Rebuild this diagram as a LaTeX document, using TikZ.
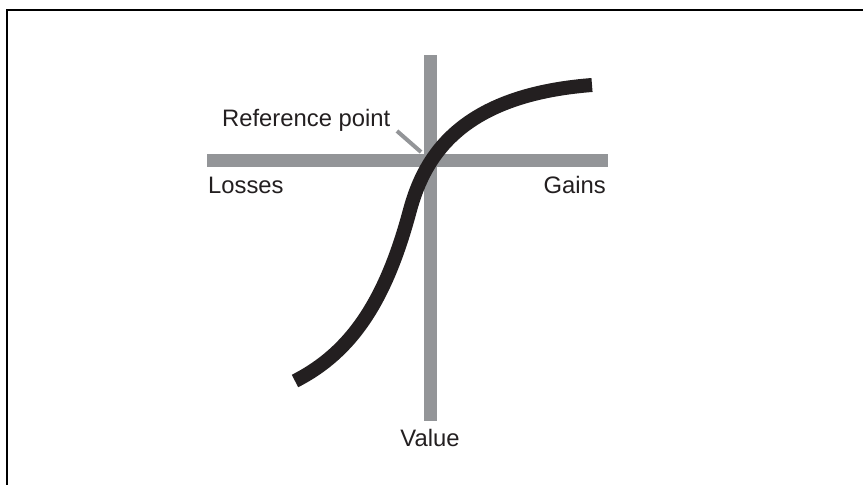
\documentclass[tikz,border=0pt]{standalone}
\usepackage{fontspec}
\setmainfont{Liberation Sans}
\definecolor{axisgray}{RGB}{147,149,152}
\definecolor{inkblack}{RGB}{35,31,32}
\tikzset{
  axisline/.style={draw=axisgray, line width=13pt},
  curveline/.style={draw=inkblack, line width=14pt},
  leaderline/.style={draw=axisgray, line width=4pt},
  lbl/.style={text=inkblack, font=\fontsize{23.8}{28}\selectfont, inner sep=0pt},
  frameline/.style={draw=black, line width=1.5pt}
}
\begin{document}
\begin{tikzpicture}[x=1pt,y=-1pt]
\useasboundingbox (0,0) rectangle (863,485);
\fill[white] (0,0) rectangle (863,485);
\draw[frameline] (7,485) -- (7,10) -- (863,10);
% axes
\coordinate (hl) at (207,160.5);
\coordinate (hr) at (608,160.5);
\coordinate (vt) at (430,55);
\coordinate (vb) at (430,420.5);
\draw[axisline] (hl) -- (hr);
\draw[axisline] (vt) -- (vb);
% leader
\coordinate (ls) at (397,131);
\coordinate (le) at (421,152);
\draw[leaderline] (ls) -- (le);
% curve
\coordinate (c0) at (295,381);
\coordinate (c1) at (410,210);
\coordinate (c2) at (592,85);
\draw[curveline] (c0) .. controls (352,352) and (386,300) .. (c1)
  .. controls (425,155) and (462,95) .. (c2);
% labels
\node[lbl, anchor=base west] (ref) at (222,126) {Reference point};
\node[lbl, anchor=base west] (loss) at (208,193) {Losses};
\node[lbl, anchor=base east] (gain) at (606,193) {Gains};
\node[lbl, anchor=base] (val) at (430,446) {Value};
\end{tikzpicture}
\end{document}
